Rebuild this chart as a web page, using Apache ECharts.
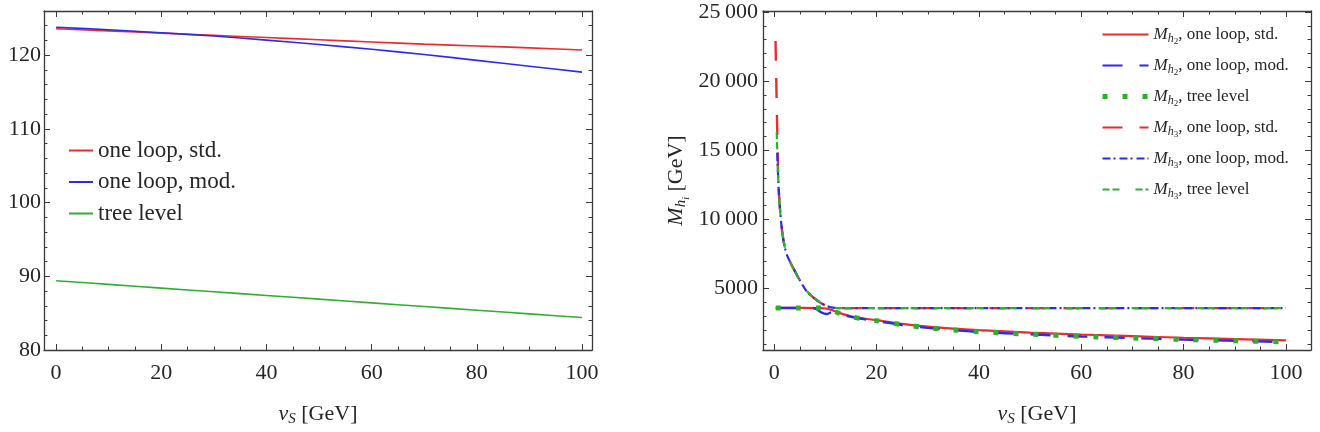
<!DOCTYPE html>
<html>
<head>
<meta charset="utf-8">
<script src="https://cdn.jsdelivr.net/npm/echarts@6/dist/echarts.min.js"></script>
<style>
  html, body { margin: 0; padding: 0; background: #fff; }
  #chart { width: 1320px; height: 432px; }
</style>
</head>
<body>
<div id="chart"></div>
<script>
// ---- left panel: light state vs v_S
const vsLeft = [0, 10, 20, 30, 40, 50, 60, 70, 80, 90, 100];
const stdLeft = [123.6, 123.3, 123.0, 122.7, 122.4, 122.1, 121.8, 121.5, 121.25, 121.0, 120.7];
const modLeft = [123.8, 123.45, 123.05, 122.6, 122.05, 121.45, 120.8, 120.1, 119.3, 118.5, 117.7];
const treeLeft = [89.4, 88.9, 88.4, 87.9, 87.4, 86.9, 86.4, 85.9, 85.4, 84.9, 84.4];

// ---- right panel: heavy states vs v_S
const vsH2 = [0.3, 5, 9, 10, 11, 12, 13, 15, 17.5, 20, 25, 30, 35, 40, 50, 60, 70, 80, 90, 100];
const h2Std = [3600, 3600, 3590, 3560, 3480, 3350, 3210, 3000, 2840, 2715, 2450, 2250, 2100, 1990, 1820, 1680, 1560, 1445, 1345, 1250];
const h2Tree = [3600, 3600, 3590, 3550, 3460, 3320, 3180, 2970, 2800, 2680, 2390, 2170, 2010, 1880, 1700, 1550, 1430, 1320, 1230, 1150];
const vsH2Mod = [0.3, 5, 8, 9, 10.2, 11.2, 12.3, 13.5, 15, 17.5, 20, 25, 30, 35, 40, 50, 60, 70, 80, 90, 100];
const h2Mod = [3600, 3600, 3560, 3320, 3160, 3300, 3380, 3120, 2960, 2790, 2660, 2370, 2160, 2000, 1870, 1690, 1540, 1420, 1310, 1220, 1140];

const vsH3 = [0.8, 1, 1.3, 1.6, 2, 2.4, 3, 3.6, 5, 6.2, 7.5, 8.8, 10, 11, 12, 13, 20, 40, 60, 80, 100];
const h3Curve = [12700, 11350, 10000, 8950, 8100, 7500, 7000, 6550, 5600, 4875, 4400, 4035, 3780, 3650, 3600, 3590, 3590, 3590, 3590, 3590, 3590];
const h3StartVs = { std: 0.25, mod: 0.59, tree: 0.48 };
const h3StartM = { std: 22900, mod: 14800, tree: 16300 };

const xTicks = [0, 20, 40, 60, 80, 100];
const xMinor = [0, 5, 10, 15, 20, 25, 30, 35, 40, 45, 50, 55, 60, 65, 70, 75, 80, 85, 90, 95, 100];
const yTicksLeft = [80, 90, 100, 110, 120];
const yMinorLeft = [80, 82, 84, 86, 88, 90, 92, 94, 96, 98, 100, 102, 104, 106, 108, 110, 112, 114, 116, 118, 120, 122, 124, 126];
const yTicksRight = [5000, 10000, 15000, 20000, 25000];
const yMinorRight = [1000, 2000, 3000, 4000, 5000, 6000, 7000, 8000, 9000, 10000, 11000, 12000, 13000, 14000, 15000, 16000, 17000, 18000, 19000, 20000, 21000, 22000, 23000, 24000, 25000];

const RED = "#ee2b2b";
const BLUE = "#2b2bee";
const GREEN = "#2eb02e";
const FRAME = "#3a3a3a";
const INK = "#262626";
const FONT = "Liberation Serif";

const zip = (xs, ys) => xs.map((x, i) => [x, ys[i]]);
const h3 = (key) => [[h3StartVs[key], h3StartM[key]], ...zip(vsH3, h3Curve)];

function fmtThousands(v) {
  return v >= 10000 ? String(v).replace(/(\d{3})$/, "\u2009$1") : String(v);
}

// four axes per side pair: labelled side, its minor ticks, opposite side, its minor ticks
function frameAxes(gridIndex, sides, range, major, minor, labelOpts, nameOpts) {
  const base = {
    gridIndex, type: "value", min: range[0], max: range[1],
    splitLine: { show: false },
    axisLine: { show: false, onZero: false },
    axisLabel: { show: false },
  };
  const tick = (values, len) => ({
    show: true, inside: true, length: len, customValues: values,
    lineStyle: { color: FRAME, width: 1 },
  });
  const line = { show: true, onZero: false, lineStyle: { color: FRAME, width: 1.3 } };
  return [
    {
      ...base, position: sides[0], axisLine: line, axisTick: tick(major, 6),
      axisLabel: { show: true, customValues: major, color: INK, fontFamily: FONT, fontSize: 22, ...labelOpts },
      ...nameOpts,
    },
    { ...base, position: sides[0], axisTick: tick(minor, 3.5) },
    { ...base, position: sides[1], axisLine: line, axisTick: tick(major, 6) },
    { ...base, position: sides[1], axisTick: tick(minor, 3.5) },
  ];
}

const axisNameRich = {
  b: { fontFamily: FONT, fontSize: 22, color: INK },
  it: { fontFamily: FONT, fontSize: 22, fontStyle: "italic", color: INK },
  s1: { fontFamily: FONT, fontSize: 15, fontStyle: "italic", color: INK, padding: [10, 0, 0, 0] },
  s2: { fontFamily: FONT, fontSize: 10, fontStyle: "italic", color: INK, padding: [20, 0, 0, 0] },
};

const xName = {
  name: "{it|v}{s1|S}{b| [GeV]}", nameLocation: "middle", nameGap: 52,
  nameTextStyle: { rich: axisNameRich },
};
const xAxes = [
  ...frameAxes(0, ["bottom", "top"], [-2.3, 101.9], xTicks, xMinor, { margin: 12 }, xName),
  ...frameAxes(1, ["bottom", "top"], [-2.2, 104.9], xTicks, xMinor, { margin: 12 }, xName),
];
const yAxes = [
  ...frameAxes(0, ["left", "right"], [80, 126], yTicksLeft, yMinorLeft, { margin: 3 }, {}),
  ...frameAxes(1, ["left", "right"], [560, 25070], yTicksRight, yMinorRight,
    { margin: 5, formatter: fmtThousands }, {
      name: "{it|M}{s1|h}{s2|i}{b| [GeV]}", nameLocation: "middle", nameGap: 72,
      nameTextStyle: { rich: axisNameRich },
    }),
];

function lineSeries(name, data, color, width, dash, grid) {
  return {
    name, type: "line", data, xAxisIndex: grid * 4, yAxisIndex: grid * 4,
    symbol: "none", smooth: 0.3, animation: false,
    lineStyle: { color, width, type: dash || "solid", cap: "butt" },
    itemStyle: { color },
  };
}

const DASH = [20, 17];
const DOTS = [5, 15];
const series = [
  lineSeries("one loop, std.", zip(vsLeft, stdLeft), RED, 1.6, null, 0),
  lineSeries("one loop, mod.", zip(vsLeft, modLeft), BLUE, 1.6, null, 0),
  lineSeries("tree level", zip(vsLeft, treeLeft), GREEN, 1.6, null, 0),
  lineSeries("h2 std", zip(vsH2, h2Std), RED, 2.2, null, 1),
  lineSeries("h2 mod", zip(vsH2Mod, h2Mod), BLUE, 2.4, DASH, 1),
  lineSeries("h2 tree", zip(vsH2, h2Tree), GREEN, 5, DOTS, 1),
  lineSeries("h3 std", h3("std"), RED, 2.4, DASH, 1),
  lineSeries("h3 mod", h3("mod"), BLUE, 2.2, [8, 3, 2, 4], 1),
  lineSeries("h3 tree", h3("tree"), GREEN, 2.2, [7, 3, 7, 16], 1),
];

const rightLabels = {
  "h2 std": "{M|M}{h|h}{n|2}{t|, one loop, std.}",
  "h2 mod": "{M|M}{h|h}{n|2}{t|, one loop, mod.}",
  "h2 tree": "{M|M}{h|h}{n|2}{t|, tree level}",
  "h3 std": "{M|M}{h|h}{n|3}{t|, one loop, std.}",
  "h3 mod": "{M|M}{h|h}{n|3}{t|, one loop, mod.}",
  "h3 tree": "{M|M}{h|h}{n|3}{t|, tree level}",
};
const rightLegendData = Object.keys(rightLabels).map((name) =>
  name === "h2 tree"
    ? { name, lineStyle: { width: 5, type: DOTS, color: GREEN, cap: "butt" } }
    : { name });

const chart = echarts.init(document.getElementById("chart"), null, { renderer: "canvas" });
chart.setOption({
  animation: false,
  backgroundColor: "#fff",
  grid: [
    { left: 44, top: 11, width: 548, height: 339 },
    { left: 763, top: 11, width: 548, height: 339.5 },
  ],
  xAxis: xAxes,
  yAxis: yAxes,
  legend: [
    {
      data: ["one loop, std.", "one loop, mod.", "tree level"],
      orient: "vertical", left: 63, top: 134, itemWidth: 24, itemHeight: 14, itemGap: 8.5,
      itemStyle: { opacity: 0 },
      textStyle: { fontFamily: FONT, fontSize: 23, color: INK },
      selectedMode: false,
    },
    {
      data: rightLegendData,
      formatter: (name) => rightLabels[name],
      orient: "vertical", left: 1095, top: 21, itemWidth: 46, itemHeight: 14, itemGap: 11,
      itemStyle: { opacity: 0 },
      textStyle: {
        color: INK,
        rich: {
          M: { fontFamily: FONT, fontSize: 17, fontStyle: "italic", color: INK },
          h: { fontFamily: FONT, fontSize: 12, fontStyle: "italic", color: INK, padding: [8, 0, 0, 0] },
          n: { fontFamily: FONT, fontSize: 9, color: INK, padding: [14, 0, 0, 0] },
          t: { fontFamily: FONT, fontSize: 17, color: INK },
        },
      },
      selectedMode: false,
    },
  ],
  series,
});
</script>
</body>
</html>
